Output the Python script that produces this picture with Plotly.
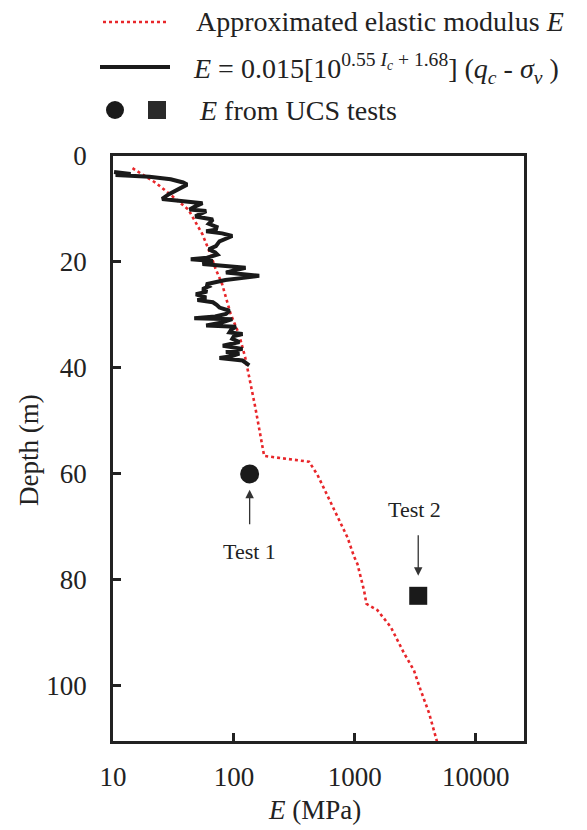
import math
import plotly.graph_objects as go

# Approximated elastic modulus profile (depth in m, E in MPa)
approx_depth = [2.3, 5.1, 7.6, 10.1, 14.8, 18.9, 21.1, 24.2, 29.8, 33.6, 38.0, 41.7,
                47.3, 56.6, 57.7, 60.2, 66.8, 72.0, 75.6, 77.0, 82.0, 84.5, 85.7,
                88.9, 93.8, 97.1, 100.8, 105.1, 109.6, 110.6]
approx_E = [14.5, 22.7, 31.0, 42.0, 55.0, 65.0, 70.0, 80.0, 94.0, 110.0, 124.0, 134.0,
            150.0, 178.0, 419.0, 492.0, 674.0, 871.0, 987.0, 1052.0, 1194.0, 1248.0, 1538.0,
            1986.0, 2553.0, 3090.0, 3508.0, 4113.0, 4670.0, 4800.0]

# CPT-derived elastic modulus profile
cpt_depth = [3.0, 3.4, 3.6, 3.9, 4.4, 5.0, 5.4, 6.2, 7.2, 8.1, 8.6, 8.9, 9.5, 10.1, 10.4,
             11.0, 11.4, 12.0, 12.8, 13.4, 13.9, 14.2, 14.6, 15.1, 15.6, 16.1, 17.0, 17.6,
             18.2, 18.6, 19.2, 19.5, 19.8, 20.4, 20.8, 21.1, 21.6, 22.0, 22.3, 22.6, 23.0,
             23.4, 24.2, 24.6, 25.1, 25.6, 26.1, 26.7, 27.2, 27.6, 28.1, 28.6, 29.2, 29.8,
             30.3, 30.6, 30.8, 31.4, 32.0, 32.2, 32.8, 33.3, 33.6, 34.0, 34.5, 35.1, 35.8,
             36.4, 37.0, 37.3, 37.8, 38.1, 38.6, 39.1, 39.5]
cpt_E = [10.2, 14.0, 10.5, 20.0, 30.0, 38.0, 41.0, 35.0, 29.0, 25.5, 40.0, 55.0, 48.0, 43.0, 59.0,
         52.0, 48.0, 67.0, 62.0, 72.0, 71.0, 59.0, 80.0, 97.0, 85.0, 76.0, 71.0, 62.0,
         70.0, 73.0, 60.0, 44.0, 67.0, 55.0, 90.0, 125.0, 100.0, 86.0, 120.0, 162.0, 120.0,
         85.0, 59.0, 62.0, 55.0, 60.0, 48.5, 59.0, 50.0, 67.0, 72.0, 76.0, 92.0, 86.0,
         70.0, 47.0, 97.0, 80.0, 59.0, 104.0, 95.0, 92.0, 118.0, 100.0, 97.0, 111.0, 81.0,
         118.0, 86.0, 111.0, 95.0, 76.0, 118.0, 125.0, 134.0]

# UCS test results
test1_depth, test1_E = [60.0], [135.0]
test2_depth, test2_E = [83.0], [3350.0]

x_tickvals = [10, 100, 1000, 10000]
x_ticktext = ["10", "100", "1000", "10000"]
y_tickvals = [0, 20, 40, 60, 80, 100]

FONT = "Liberation Serif"
INK = "#222222"
RED = "#e8262a"

fig = go.Figure()
fig.add_trace(go.Scatter(x=approx_E, y=approx_depth, mode="lines",
                         line=dict(color=RED, width=2.6, dash="dot"), showlegend=False))
fig.add_trace(go.Scatter(x=cpt_E, y=cpt_depth, mode="lines",
                         line=dict(color="#1a1a1a", width=4), showlegend=False))
fig.add_trace(go.Scatter(x=test1_E, y=test1_depth, mode="markers",
                         marker=dict(symbol="circle", size=19, color="#1a1a1a"), showlegend=False))
fig.add_trace(go.Scatter(x=test2_E, y=test2_depth, mode="markers",
                         marker=dict(symbol="square", size=18, color="#1a1a1a"), showlegend=False))

W, H = 587, 830
L, R, T, B = 113, 63, 156, 89
pw, ph = W - L - R, H - T - B


def px(x):
    return (x - L) / pw


def py(y):
    return (H - B - y) / ph


shapes = []
annotations = []

# legend samples
shapes.append(dict(type="line", xref="paper", yref="paper", x0=px(103), x1=px(168),
                   y0=py(22), y1=py(22), line=dict(color=RED, width=2.6, dash="dot")))
shapes.append(dict(type="line", xref="paper", yref="paper", x0=px(100), x1=px(170),
                   y0=py(67), y1=py(67), line=dict(color="#1a1a1a", width=4)))
shapes.append(dict(type="circle", xref="paper", yref="paper", x0=px(106), x1=px(124),
                   y0=py(101), y1=py(119), fillcolor="#1a1a1a", line=dict(width=0)))
shapes.append(dict(type="rect", xref="paper", yref="paper", x0=px(148), x1=px(166),
                   y0=py(101), y1=py(119), fillcolor="#2a2a2a", line=dict(width=0)))

leg_font = dict(family=FONT, size=28, color=INK)
annotations.append(dict(xref="paper", yref="paper", x=px(194), y=py(22), xanchor="left",
                        yanchor="middle", showarrow=False, font=leg_font,
                        text="Approximated elastic modulus <i>E</i>"))
annotations.append(dict(xref="paper", yref="paper", x=px(191), y=py(68), xanchor="left",
                        yanchor="middle", showarrow=False, font=leg_font,
                        text="<i>E</i> = 0.015[10<sup>0.55 <i>I<sub>c</sub></i> + 1.68</sup>] "
                             "(<i>q<sub>c</sub></i> - <i>σ<sub>v</sub></i> )"))
annotations.append(dict(xref="paper", yref="paper", x=px(197), y=py(110), xanchor="left",
                        yanchor="middle", showarrow=False, font=leg_font,
                        text="<i>E</i> from UCS tests"))

# axis titles
annotations.append(dict(xref="paper", yref="paper", x=px(314), y=py(810), xanchor="center",
                        yanchor="middle", showarrow=False,
                        font=dict(family=FONT, size=27, color=INK), text="<i>E</i> (MPa)"))
annotations.append(dict(xref="paper", yref="paper", x=px(29), y=py(450), xanchor="center",
                        yanchor="middle", showarrow=False, textangle=-90,
                        font=dict(family=FONT, size=27, color=INK), text="Depth (m)"))

# test callouts (log axis: positions in log10 units)
t1x = math.log10(test1_E[0])
t2x = math.log10(test2_E[0])
annotations.append(dict(xref="x", yref="y", x=t1x, y=63.0, axref="x", ayref="y",
                        ax=t1x, ay=69.8, showarrow=True, arrowhead=2, arrowsize=1.3,
                        arrowwidth=1.3, arrowcolor="#333333", text=""))
annotations.append(dict(xref="x", yref="y", x=t1x, y=74.7, showarrow=False,
                        font=dict(family=FONT, size=22, color=INK), text="Test 1"))
annotations.append(dict(xref="x", yref="y", x=t2x, y=79.2, axref="x", ayref="y",
                        ax=t2x, ay=71.3, showarrow=True, arrowhead=2, arrowsize=1.3,
                        arrowwidth=1.3, arrowcolor="#333333", text=""))
annotations.append(dict(xref="x", yref="y", x=t2x - 0.03, y=66.8, showarrow=False,
                        font=dict(family=FONT, size=22, color=INK), text="Test 2"))

fig.update_layout(
    width=W, height=H,
    margin=dict(l=L, r=R, t=T, b=B, pad=0),
    paper_bgcolor="white", plot_bgcolor="white",
    showlegend=False,
    shapes=shapes, annotations=annotations,
    font=dict(family=FONT, color=INK),
    xaxis=dict(type="log", range=[1, 4.4], tickvals=x_tickvals, ticktext=x_ticktext,
               ticks="inside", ticklen=8, tickwidth=2.5, tickcolor=INK,
               showline=True, linewidth=2.5, linecolor=INK, mirror=True,
               showgrid=False, zeroline=False, ticklabelstandoff=10,
               tickfont=dict(family=FONT, size=27, color=INK)),
    yaxis=dict(range=[110.4, 0], tickvals=y_tickvals,
               ticks="inside", ticklen=8, tickwidth=2.5, tickcolor=INK,
               showline=True, linewidth=2.5, linecolor=INK, mirror=True,
               showgrid=False, zeroline=False, ticklabelstandoff=18,
               tickfont=dict(family=FONT, size=27, color=INK)),
)

fig.write_html("out.html")
